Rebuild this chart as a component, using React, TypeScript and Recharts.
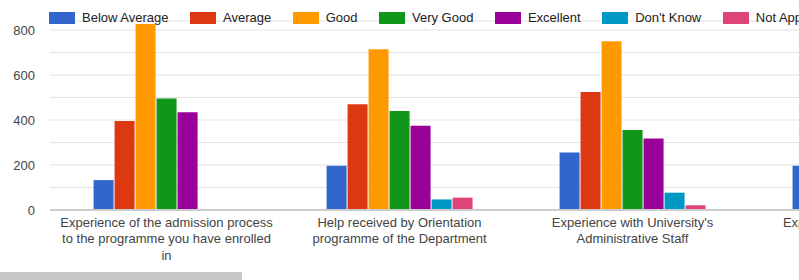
import { BarChart, Bar, XAxis, YAxis, CartesianGrid, ReferenceLine } from "recharts";

const categories = [
  "Experience of the admission process to the programme you have enrolled in",
  "Help received by Orientation programme of the Department",
  "Experience with University's Administrative Staff",
  "Experience with Library Staff",
];

// wrapped tick labels, one list of lines per category
const categoryLines = [
  ["Experience of the admission process", "to the programme you have enrolled", "in"],
  ["Help received by Orientation", "programme of the Department"],
  ["Experience with University's", "Administrative Staff"],
  ["Experience with Library Staff"],
];

const seriesNames = [
  "Below Average",
  "Average",
  "Good",
  "Very Good",
  "Excellent",
  "Don't Know",
  "Not Applicable",
];
const seriesKeys = ["below", "average", "good", "veryGood", "excellent", "dontKnow", "notApplicable"];
const seriesColors = ["#3366cc", "#dc3912", "#ff9900", "#109618", "#990099", "#0099c6", "#dd4477"];

const belowAverage = [133, 197, 256, 197];
const average = [396, 470, 524, null];
const good = [827, 714, 750, null];
const veryGood = [496, 440, 356, null];
const excellent = [434, 375, 318, null];
const dontKnow = [3, 47, 77, null];
const notApplicable = [3, 55, 21, null];

const yTicks = [0, 100, 200, 300, 400, 500, 600, 700, 800];

const seriesValues = [belowAverage, average, good, veryGood, excellent, dontKnow, notApplicable];

const data = categories.map((name, i) => {
  const row: Record<string, string | number | null> = { name };
  seriesKeys.forEach((k, s) => {
    row[k] = seriesValues[s][i];
  });
  return row;
});

const FONT = 'Arial, "Liberation Sans", sans-serif';

function CategoryTick(props: any) {
  const { x, y, payload } = props;
  const lines = categoryLines[payload.index] || [payload.value];
  return (
    <g>
      {lines.map((line, i) => (
        <text
          key={i}
          x={x}
          y={y + 16.5 + i * 16.5}
          textAnchor="middle"
          fontSize={13}
          fontFamily={FONT}
          fill="#444"
        >
          {line}
        </text>
      ))}
    </g>
  );
}

function Legenda() {
  return (
    <div
      style={{
        position: "absolute",
        top: 11,
        left: 49,
        display: "flex",
        alignItems: "center",
        height: 13,
        whiteSpace: "nowrap",
        fontFamily: FONT,
        fontSize: 13,
        color: "#222",
        zIndex: 2,
      }}
    >
      {seriesNames.map((n, i) => (
        <div key={n} style={{ display: "flex", alignItems: "center", marginRight: 21.5 }}>
          <span
            style={{ display: "inline-block", width: 26, height: 12, background: seriesColors[i], marginRight: 7 }}
          />
          <span>{n}</span>
        </div>
      ))}
    </div>
  );
}

export default function App() {
  return (
    <div
      style={{
        position: "absolute",
        left: 0,
        top: 0,
        width: 799,
        height: 280,
        overflow: "hidden",
        background: "#fff",
      }}
    >
      <Legenda />
      <BarChart
        width={990}
        height={280}
        data={data}
        margin={{ top: 21, right: 8, bottom: 0, left: 0 }}
        barCategoryGap="18.7%"
        barGap={1}
      >
        <CartesianGrid vertical={false} stroke="#e3e3e3" />
        <XAxis
          dataKey="name"
          interval={0}
          height={70}
          tickLine={false}
          axisLine={false}
          tickSize={0}
          tickMargin={0}
          tick={<CategoryTick />}
        />
        <YAxis
          width={50}
          domain={[0, 840]}
          ticks={yTicks}
          tickFormatter={(v: number) => (v % 200 === 0 ? String(v) : "")}
          axisLine={false}
          tickLine={false}
          tickMargin={9}
          tick={{ fill: "#444", fontSize: 13, fontFamily: FONT }}
        />
        {seriesKeys.map((k, i) => (
          <Bar key={k} dataKey={k} name={seriesNames[i]} fill={seriesColors[i]} isAnimationActive={false} />
        ))}
        <ReferenceLine y={0} stroke="#cccccc" strokeWidth={2} />
      </BarChart>
      <div
        style={{
          position: "absolute",
          left: 0,
          top: 272,
          width: 242,
          height: 8,
          background: "#c8c8c8",
        }}
      />
    </div>
  );
}
